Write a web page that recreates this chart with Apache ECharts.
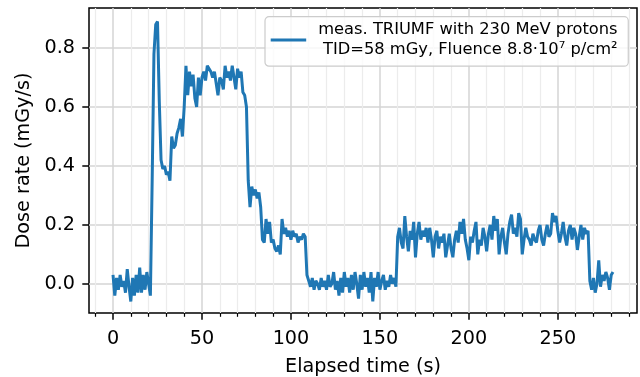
<!DOCTYPE html>
<html>
<head>
<meta charset="utf-8">
<script src="https://cdn.jsdelivr.net/npm/echarts@6/dist/echarts.min.js"></script>
<style>
html,body{margin:0;padding:0;background:#fff;}
#chart{width:640px;height:377px;}
</style>
</head>
<body>
<div id="chart"></div>
<script>
// Sampling of the measurement (seconds)
const startTime = 0;
const sampleStep = 1;

// Dose rate (mGy/s), one value per second
const doseRate = [
  0.03, -0.04, 0.02, -0.02, 0.03, -0.01, 0.01, -0.03, 0.05, -0.01,
  -0.06, 0.02, -0.04, 0.03, -0.03, 0.055, -0.03, 0.03, -0.02, 0.04,
  0.0, -0.04, 0.35, 0.78, 0.88, 0.89, 0.62, 0.42, 0.39, 0.40,
  0.37, 0.38, 0.35, 0.50, 0.46, 0.47, 0.51, 0.53, 0.56, 0.50,
  0.60, 0.74, 0.64, 0.72, 0.67, 0.71, 0.63, 0.60, 0.70, 0.64,
  0.70, 0.72, 0.69, 0.74, 0.73, 0.72, 0.70, 0.72, 0.68, 0.64,
  0.70, 0.69, 0.66, 0.74, 0.70, 0.72, 0.69, 0.74, 0.70, 0.66,
  0.73, 0.70, 0.72, 0.65, 0.64, 0.60, 0.35, 0.26, 0.33, 0.30,
  0.32, 0.29, 0.31, 0.26, 0.15, 0.14, 0.22, 0.17, 0.21, 0.14,
  0.15, 0.12, 0.11, 0.13, 0.10, 0.22, 0.17, 0.19, 0.16, 0.18,
  0.15, 0.18, 0.16, 0.17, 0.14, 0.16, 0.15, 0.17, 0.16, 0.03,
  0.01, -0.01, 0.02, -0.02, 0.01, 0.0, -0.02, 0.02, -0.01, 0.01,
  -0.02, 0.03, -0.01, 0.0, 0.04, -0.02, 0.01, -0.04, 0.02, -0.03,
  0.04, -0.01, 0.02, -0.03, 0.03, -0.02, 0.04, 0.0, -0.05, 0.03,
  -0.02, 0.04, -0.01, 0.02, -0.03, 0.04, -0.06, 0.02, -0.01, 0.04,
  -0.02, 0.01, 0.03, -0.02, 0.01, -0.01, 0.03, 0.0, 0.02, -0.01,
  0.16, 0.19, 0.14, 0.12, 0.23, 0.16, 0.11, 0.18, 0.15, 0.21,
  0.09, 0.17, 0.21, 0.15, 0.18, 0.16, 0.19, 0.14, 0.19, 0.15,
  0.09, 0.16, 0.18, 0.12, 0.16, 0.14, 0.17, 0.09, 0.13, 0.17,
  0.12, 0.09, 0.15, 0.18, 0.14, 0.21, 0.17, 0.22, 0.15, 0.12,
  0.08, 0.16, 0.14, 0.18, 0.21, 0.10, 0.15, 0.13, 0.19, 0.16,
  0.11, 0.17, 0.20, 0.15, 0.23, 0.18, 0.22, 0.10, 0.16, 0.19,
  0.14, 0.10, 0.17, 0.21, 0.235, 0.17, 0.19, 0.16, 0.24, 0.22,
  0.10, 0.15, 0.19, 0.16, 0.15, 0.13, 0.17, 0.15, 0.14, 0.18,
  0.20, 0.15, 0.13, 0.17, 0.20, 0.16, 0.17, 0.24, 0.21, 0.23,
  0.18, 0.14, 0.17, 0.21, 0.16, 0.13, 0.18, 0.20, 0.15, 0.19,
  0.17, 0.115, 0.16, 0.20, 0.15, 0.19, 0.17, 0.18, 0.01, -0.02,
  0.02, -0.03, 0.0, 0.08, -0.01, 0.03, 0.01, 0.04, 0.02, -0.02, 0.03, 0.04
];

const seriesName = 'meas. TRIUMF with 230 MeV protons';
const legendLine1 = 'meas. TRIUMF with 230 MeV protons';
const legendLine2 = 'TID=58 mGy, Fluence 8.8·10⁷ p/cm²';

const xMajorTicks = [0, 50, 100, 150, 200, 250];
const xMinorTicks = [-10, 10, 20, 30, 40, 60, 70, 80, 90, 110, 120, 130, 140, 160, 170, 180, 190, 210, 220, 230, 240, 260, 270, 280, 290];
const yMajorTicks = [0, 0.2, 0.4, 0.6, 0.8];

const xRange = [-13.5, 294.5];
const yRange = [-0.099, 0.936];

const FONT = 'DejaVu Sans';
const points = doseRate.map((v, i) => [startTime + i * sampleStep, v]);

const chart = echarts.init(document.getElementById('chart'), null, {renderer: 'canvas'});
chart.setOption({
  animation: false,
  textStyle: {fontFamily: FONT},
  grid: {left: 89, right: 3, top: 8, bottom: 64, show: true, borderColor: '#000', borderWidth: 1.5,
    backgroundColor: 'transparent', containLabel: false, outerBoundsMode: 'none'},
  xAxis: [
    {
      type: 'value', min: xRange[0], max: xRange[1], position: 'bottom',
      name: 'Elapsed time (s)', nameLocation: 'middle', nameGap: 45,
      nameTextStyle: {fontSize: 19.2, color: '#000', fontFamily: FONT},
      axisLine: {show: false, onZero: false},
      axisTick: {show: true, length: 6.7, customValues: xMajorTicks, lineStyle: {color: '#000', width: 1.5}},
      axisLabel: {customValues: xMajorTicks, fontSize: 19.2, color: '#000', margin: 17, fontFamily: FONT},
      splitLine: {show: true, lineStyle: {color: '#d4d4d4', width: 1.5}}
    },
    {
      type: 'value', min: xRange[0], max: xRange[1], position: 'bottom', offset: 0,
      axisLine: {show: false, onZero: false},
      axisTick: {show: true, length: 3.8, customValues: xMinorTicks, lineStyle: {color: '#000', width: 1.2}},
      axisLabel: {show: false},
      splitLine: {show: true, lineStyle: {color: '#ececec', width: 1.2}}
    }
  ],
  yAxis: {
    type: 'value', min: yRange[0], max: yRange[1],
    name: 'Dose rate (mGy/s)', nameLocation: 'middle', nameGap: 54,
    nameTextStyle: {fontSize: 19.2, color: '#000', fontFamily: FONT},
    axisLine: {show: false, onZero: false},
    axisTick: {show: true, length: 6.7, customValues: yMajorTicks, lineStyle: {color: '#000', width: 1.5}},
    axisLabel: {customValues: yMajorTicks, fontSize: 19.2, color: '#000', margin: 14, fontFamily: FONT,
      formatter: v => Number(v).toFixed(1)},
    splitLine: {show: true, lineStyle: {color: '#d4d4d4', width: 1.5}}
  },
  legend: {
    left: 265, top: 16.7, orient: 'vertical',
    padding: [5, 10.7, 8, 5.7],
    itemWidth: 35.5, itemHeight: 3, icon: 'rect',
    backgroundColor: 'rgba(255,255,255,0.8)', borderColor: '#cccccc', borderWidth: 1.2, borderRadius: 4,
    data: [seriesName],
    formatter: () => '{r|' + legendLine1 + '}\n{r|' + legendLine2 + '}',
    textStyle: {
      padding: [0, 0, 0, 7],
      rich: {r: {fontSize: 16.3, color: '#000', fontFamily: FONT, lineHeight: 20.5, align: 'right'}}
    }
  },
  series: [{
    name: seriesName, type: 'line', xAxisIndex: 0, yAxisIndex: 0,
    data: points, showSymbol: false, symbol: 'none',
    lineStyle: {color: '#1f77b4', width: 3}, itemStyle: {color: '#1f77b4'}
  }]
});
</script>
</body>
</html>
